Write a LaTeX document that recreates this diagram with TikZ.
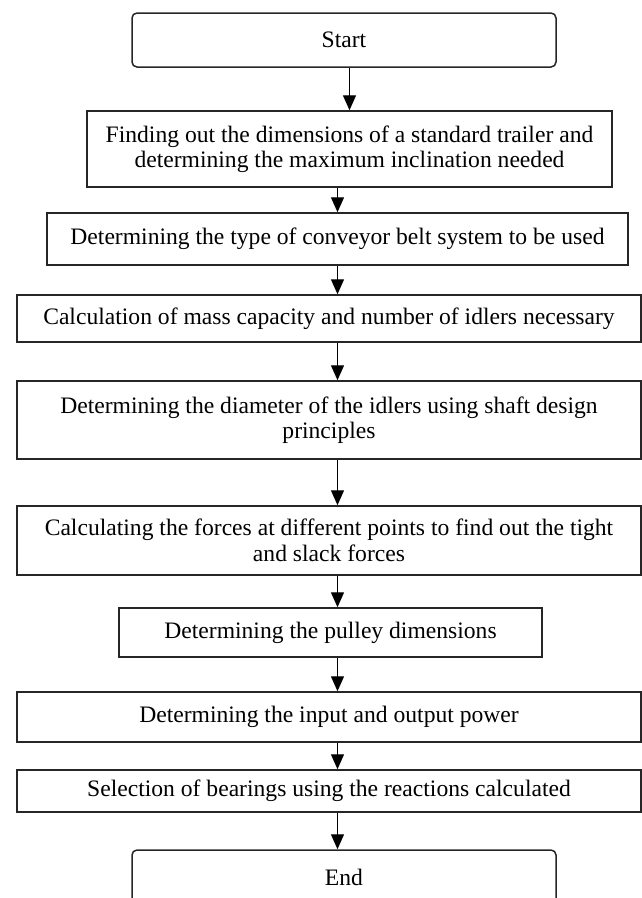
\documentclass[tikz,border=0pt]{standalone}
\usepackage{fontspec}
\setmainfont{Liberation Serif}
\usepackage{tikz}
\usetikzlibrary{arrows.meta,positioning}

\begin{document}
\begin{tikzpicture}[x=1pt,y=-1pt,
  b/.style={draw=black!85,line width=1.5pt,align=center,inner sep=0pt,
    font=\fontsize{23.6}{25.5}\selectfont},
  t/.style={b,rounded corners=5pt},
  a/.style={-{Triangle[width=13pt,length=15pt]},line width=1.4pt}]
 \clip (0,0) rectangle (642,898);
 \node[t,minimum width=424pt,minimum height=54pt] (st) at (344,40) {Start};
 \node[b,minimum width=525pt,minimum height=76pt] (b1) at (349.5,149)
   {Finding out the dimensions of a standard trailer and\\determining the maximum inclination needed};
 \node[b,minimum width=581pt,minimum height=52pt] (b2) at (337.5,239)
   {Determining the type of conveyor belt system to be used};
 \node[b,minimum width=624pt,minimum height=47pt] (b3) at (329,318.5)
   {Calculation of mass capacity and number of idlers necessary};
 \node[b,minimum width=624pt,minimum height=78pt] (b4) at (329,420)
   {Determining the diameter of the idlers using shaft design\\principles};
 \node[b,minimum width=624pt,minimum height=69pt] (b5) at (329,540.5)
   {Calculating the forces at different points to find out the tight\\and slack forces};
 \node[b,minimum width=423pt,minimum height=49pt] (b6) at (330.5,632.5)
   {Determining the pulley dimensions};
 \node[b,minimum width=624pt,minimum height=50pt] (b7) at (329,717)
   {Determining the input and output power};
 \node[b,minimum width=624pt,minimum height=42pt] (b8) at (329,791)
   {Selection of bearings using the reactions calculated};
 \node[t,minimum width=424pt,minimum height=54pt] (en) at (344,877) {End};
 \coordinate (ax) at (337.5,0);
 \draw[a] (st.south -| b1) -- (b1.north);
 \foreach \p/\q in {b1/b2,b2/b3,b3/b4,b4/b5,b5/b6,b6/b7,b7/b8,b8/en}
   \draw[a] (\p.south -| ax) -- (\q.north -| ax);
\end{tikzpicture}
\end{document}
